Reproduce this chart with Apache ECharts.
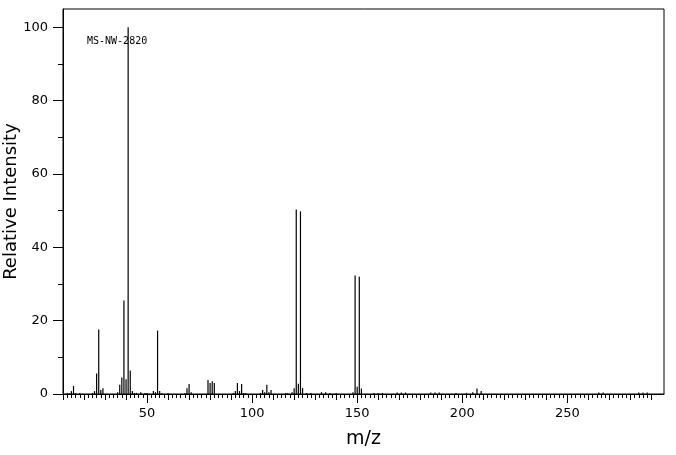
<!DOCTYPE html>
<html>
<head>
<meta charset="utf-8">
<script src="https://cdn.jsdelivr.net/npm/echarts@6/dist/echarts.min.js"></script>
<style>html,body{margin:0;padding:0;background:#fff}#c{width:676px;height:455px}</style>
</head>
<body>
<div id="c"></div>
<script>
// m/z values and relative intensities
const mz = [12,13,14,15,16,18,24,25,26,27,28,29,36,37,38,39,40,41,42,43,44,45,47,49,50,53,54,55,56,57,60,
  68,69,70,71,79,80,81,82,91,92,93,94,95,96,97,104,105,106,107,108,109,116,117,119,120,121,122,123,124,
  126,128,133,135,137,140,148,149,150,151,152,158,160,162,169,171,173,185,187,189,197,202,205,207,209,
  265,267,284,286,288];
const intensity = [0.3,0.3,0.8,2.2,0.3,0.3,0.3,0.8,5.6,17.6,1.1,1.6,0.5,2.5,4.5,25.5,4.0,100,6.4,0.8,0.3,0.3,0.5,0.3,0.3,0.8,0.5,17.3,0.8,0.3,0.3,
  0.3,1.6,2.7,0.5,3.8,3.0,3.5,3.0,0.3,0.8,3.0,0.8,2.7,0.3,0.3,0.3,1.1,0.5,2.5,0.5,1.1,0.3,0.3,0.5,1.6,50.3,2.8,49.8,1.6,
  0.3,0.3,0.5,0.5,0.3,0.3,0.5,32.3,2.0,32.0,1.5,0.3,0.3,0.3,0.4,0.4,0.4,0.4,0.4,0.4,0.3,0.3,0.5,1.5,0.8,
  0.4,0.4,0.4,0.4,0.4];
const xLabels = [50,100,150,200,250];
const xTicksMajor = [50,100,150,200,250];
const xTicksMid = [10,20,30,40,60,70,80,90,110,120,130,140,160,170,180,190,210,220,230,240,260,270,280,290];
const xTicksMinor = [];
for (let v = 12; v <= 290; v += 2) { if (v % 10 !== 0) xTicksMinor.push(v); }
const yLabels = [0,20,40,60,80,100];
const yTicksMinor = [10,30,50,70,90];
const specId = 'MS-NW-2820';

const chart = echarts.init(document.getElementById('c'));
const FONT = 'DejaVu Sans';
function xa(ticks, len, withLabels) {
  return {
    type: 'value', min: 10, max: 296, position: 'bottom', gridIndex: 0,
    axisLine: { show: withLabels, lineStyle: { color: '#000', width: 1 } },
    axisTick: { show: true, customValues: ticks, length: len, lineStyle: { color: '#000', width: 1 } },
    axisLabel: withLabels ? { show: true, customValues: xLabels, color: '#000', fontFamily: FONT, fontSize: 13, margin: 13 } : { show: false },
    splitLine: { show: false },
    name: withLabels ? 'm/z' : '', nameLocation: 'middle', nameGap: 36, nameMoveOverlap: false,
    nameTextStyle: { color: '#000', fontFamily: FONT, fontSize: 19 }
  };
}
function ya(ticks, len, withLabels) {
  return {
    type: 'value', min: 0, max: 105, position: 'left', gridIndex: 0,
    axisLine: { show: withLabels, lineStyle: { color: '#000', width: 1 } },
    axisTick: { show: true, customValues: ticks, length: len, lineStyle: { color: '#000', width: 1 } },
    axisLabel: withLabels ? { show: true, customValues: yLabels, color: '#000', fontFamily: FONT, fontSize: 13, margin: 15 } : { show: false },
    splitLine: { show: false },
    name: withLabels ? 'Relative Intensity' : '', nameLocation: 'middle', nameGap: 43, nameMoveOverlap: false,
    nameTextStyle: { color: '#000', fontFamily: FONT, fontSize: 18 }
  };
}
chart.setOption({
  animation: false,
  backgroundColor: '#fff',
  title: { text: specId, left: 87, top: 36, padding: 0, textStyle: { fontFamily: 'DejaVu Sans Mono', fontSize: 10, fontWeight: 'normal', color: '#000' } },
  grid: { left: 63, right: 12, top: 9, bottom: 61, show: true, borderColor: '#000', borderWidth: 1, backgroundColor: 'transparent', containLabel: false, outerBoundsMode: 'none' },
  xAxis: [xa(xTicksMajor, 9, true), xa(xTicksMid, 6, false), xa(xTicksMinor, 4, false)],
  yAxis: [ya(yLabels, 10, true), ya(yTicksMinor, 5, false)],
  series: [{
    type: 'bar', xAxisIndex: 0, yAxisIndex: 0, barWidth: 1.2,
    itemStyle: { color: '#000' },
    data: mz.map((m, i) => [m, intensity[i]])
  }]
});
</script>
</body>
</html>
